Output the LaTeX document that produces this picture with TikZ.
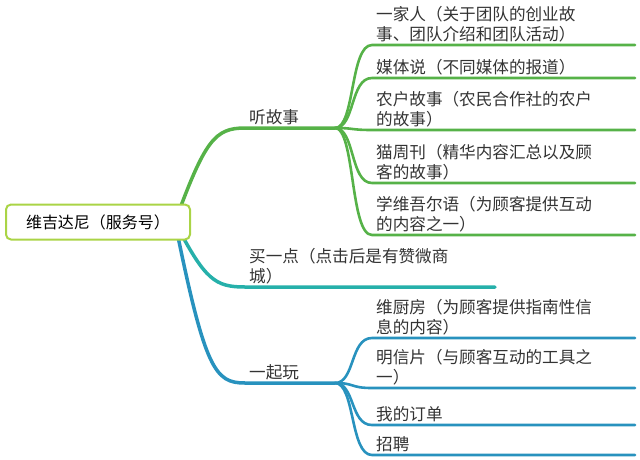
\documentclass[tikz,border=0pt]{standalone}
\usepackage{fontspec}
\newfontfamily\cjk{Noto Sans CJK SC}
\begin{document}
\begin{tikzpicture}[x=1pt,y=-1pt]
\useasboundingbox (0,0) rectangle (640,459);
\definecolor{g1}{RGB}{86,178,72}
\definecolor{t1}{RGB}{38,176,170}
\definecolor{b1}{RGB}{40,146,190}
\definecolor{rb}{RGB}{170,212,70}
\tikzset{lbl/.style={anchor=south west,align=left,font=\cjk\fontsize{16.6}{19.5}\selectfont,text=black!80,inner sep=1pt},
  gr/.style={draw=g1,line width=2.6pt,line cap=round},tl/.style={draw=t1,line width=2.6pt,line cap=round},bl/.style={draw=b1,line width=2.6pt,line cap=round}}
% branches
\coordinate (r) at (175,222);
\coordinate (s1) at (245,128); \coordinate (e1) at (335,128);
\coordinate (s2) at (245,287); \coordinate (e2) at (495,287);
\coordinate (s3) at (245,383); \coordinate (e3) at (335,383);
\draw[gr,line width=3.5pt] (r) .. controls (205,140) and (215,128) .. (s1) -- (e1);
\draw[tl,line width=3.5pt] (r) .. controls (205,280) and (215,287) .. (s2) -- (e2);
\draw[bl,line width=3.5pt] (r) .. controls (205,370) and (215,383) .. (s3) -- (e3);
\foreach \y in {45,78,130,183,235}{
  \draw[gr] (e1) .. controls (355,128) and (350,\y) .. (372,\y) -- (635,\y);}
\foreach \y in {338,388,425,455}{
  \draw[bl] (e3) .. controls (355,383) and (350,\y) .. (372,\y) -- (635,\y);}
% root
\node[draw=rb,line width=2pt,rounded corners=5pt,fill=white,minimum width=184pt,minimum height=35pt,font=\cjk\fontsize{16}{19}\selectfont] (root) at (98,222) {维吉达尼（服务号）};
% labels
\node[lbl] (a) at (248,126) {听故事};
\node[lbl] (b) at (248,285) {买一点（点击后是有赞微商\\城）};
\node[lbl] (c) at (248,381) {一起玩};
\node[lbl] (a1) at (375,43) {一家人（关于团队的创业故\\事、团队介绍和团队活动）};
\node[lbl] (a2) at (375,76) {媒体说（不同媒体的报道）};
\node[lbl] (a3) at (375,128) {农户故事（农民合作社的农户\\的故事）};
\node[lbl] (a4) at (375,181) {猫周刊（精华内容汇总以及顾\\客的故事）};
\node[lbl] (a5) at (375,233) {学维吾尔语（为顾客提供互动\\的内容之一）};
\node[lbl] (c1) at (375,336) {维厨房（为顾客提供指南性信\\息的内容）};
\node[lbl] (c2) at (375,386) {明信片（与顾客互动的工具之\\一）};
\node[lbl] (c3) at (375,423) {我的订单};
\node[lbl] (c4) at (375,453) {招聘};
\end{tikzpicture}
\end{document}
